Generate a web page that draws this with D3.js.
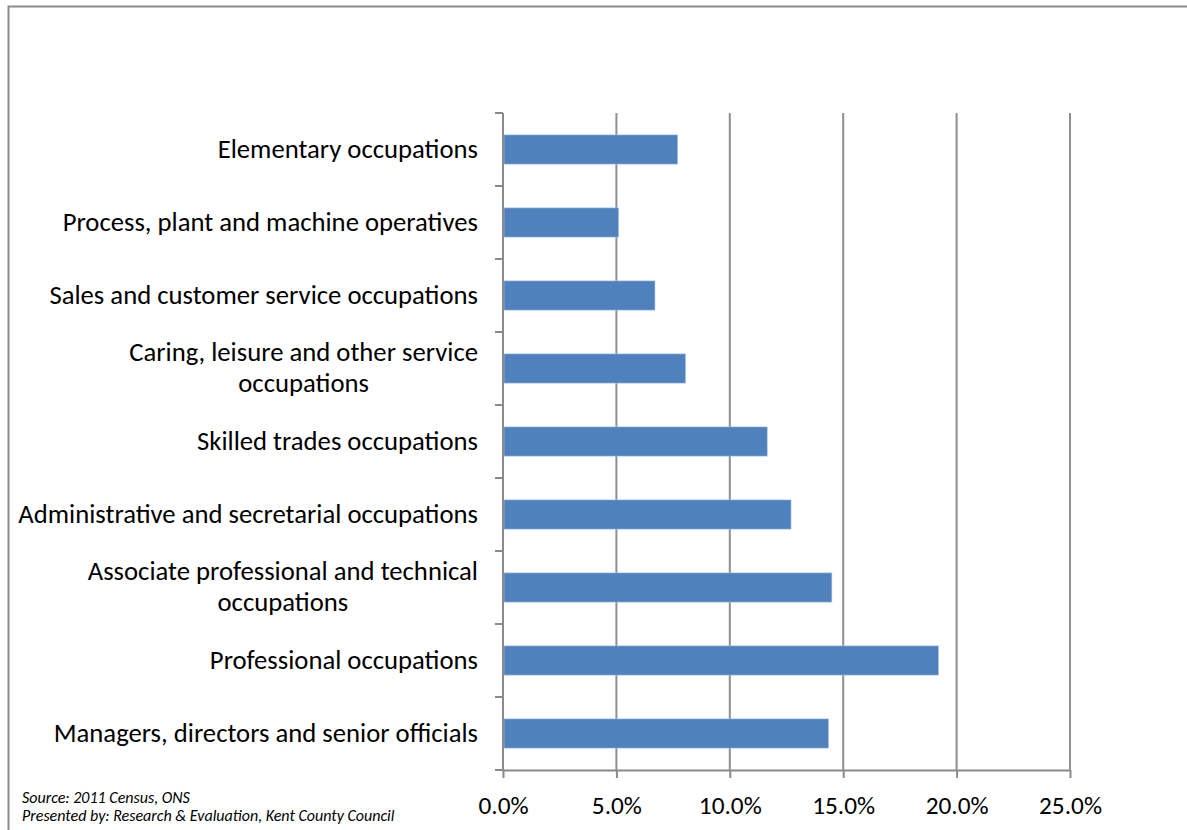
<!DOCTYPE html>
<meta charset="utf-8">
<script src="https://d3js.org/d3.v7.min.js"></script>
<style>
  body { margin: 0; background: #fff; }
  text { font-family: Carlito, Calibri, Lato, "Open Sans", sans-serif; }
</style>
<div id="my_dataviz"></div>
<script>

  // categories, top to bottom as drawn
  var occupations = [
    "Elementary occupations",
    "Process, plant and machine operatives",
    "Sales and customer service occupations",
    "Caring, leisure and other service\noccupations",
    "Skilled trades occupations",
    "Administrative and secretarial occupations",
    "Associate professional and technical\noccupations",
    "Professional occupations",
    "Managers, directors and senior officials"
  ];
  // share of residents in employment (%)
  var shares = [7.7, 5.1, 6.7, 8.05, 11.65, 12.7, 14.5, 19.2, 14.35];
  var xTicks = [0, 5, 10, 15, 20, 25];
  var notes = ["Source: 2011 Census, ONS",
               "Presented by: Research & Evaluation, Kent County Council"];

  var W = 1187, H = 830;
  var margin = {top: 113, left: 503, right: 117, bottom: 60};
  var width = W - margin.left - margin.right,
      height = H - margin.top - margin.bottom;

  var root = d3.select("#my_dataviz").append("svg")
      .attr("width", W)
      .attr("height", H);

  // outer frame (only top and left visible)
  root.append("path")
      .attr("d", "M8.5,830 V6.5 H1187")
      .attr("fill", "none")
      .attr("stroke", "#8a8a8a")
      .attr("stroke-width", 2);

  var svg = root.append("g")
      .attr("transform", "translate(" + margin.left + "," + margin.top + ")");

  var x = d3.scaleLinear().domain([0, 25]).range([0, width]);
  var y = d3.scaleBand().domain(occupations).range([0, height]).paddingInner(0.6).paddingOuter(0.3);

  // vertical gridlines
  svg.selectAll(".grid")
    .data(xTicks.slice(1))
    .enter().append("line")
      .attr("x1", function(d) { return x(d); })
      .attr("x2", function(d) { return x(d); })
      .attr("y1", 0)
      .attr("y2", height)
      .attr("stroke", "#8f8f8f")
      .attr("stroke-width", 2);

  // bars
  svg.selectAll("rect")
    .data(shares)
    .enter().append("rect")
      .attr("x", 1)
      .attr("y", function(d, i) { return y(occupations[i]); })
      .attr("width", function(d) { return x(d) - 1; })
      .attr("height", y.bandwidth())
      .attr("fill", "#4f81bd")
      .attr("stroke", "#a9c4e6")
      .attr("stroke-width", 0.6);

  // x axis
  var xAxis = svg.append("g")
      .attr("transform", "translate(0," + height + ")")
      .call(d3.axisBottom(x).tickValues(xTicks).tickSize(8).tickSizeOuter(0)
        .tickFormat(function(d) { return d.toFixed(1) + "%"; }));
  xAxis.select(".domain").attr("stroke", "#8a8a8a").attr("stroke-width", 2);
  xAxis.selectAll(".tick line").attr("stroke", "#8a8a8a").attr("stroke-width", 2);
  xAxis.selectAll(".tick text")
      .attr("y", 26)
      .attr("dy", "0.71em")
      .attr("fill", "#000")
      .style("font-size", "25.3px");

  // y axis line and category tick marks (between categories)
  var yTicks = d3.range(occupations.length + 1).map(function(i) { return i * height / occupations.length; });
  svg.append("line")
      .attr("x1", 0).attr("x2", 0).attr("y1", 0).attr("y2", height)
      .attr("stroke", "#8a8a8a").attr("stroke-width", 2);
  svg.selectAll(".ytick")
    .data(yTicks)
    .enter().append("line")
      .attr("x1", -8).attr("x2", 0)
      .attr("y1", function(d) { return d; })
      .attr("y2", function(d) { return d; })
      .attr("stroke", "#8a8a8a").attr("stroke-width", 2);

  // category labels, multi-line ones centred on the widest line
  var labels = svg.selectAll(".cat")
    .data(occupations)
    .enter().append("text")
      .attr("class", "cat")
      .attr("fill", "#000")
      .style("font-size", "26.7px")
      .attr("transform", function(d) { return "translate(-25," + (y(d) + y.bandwidth() / 2) + ")"; });

  labels.each(function(d) {
    var t = d3.select(this);
    var lines = d.split("\n");
    var n = lines.length;
    lines.forEach(function(line, i) {
      t.append("tspan")
        .attr("x", 0)
        .attr("y", (i - (n - 1) / 2) * 31)
        .attr("dy", "0.3em")
        .text(line);
    });
    if (n == 1) {
      t.attr("text-anchor", "end");
    } else {
      var maxW = d3.max(t.selectAll("tspan").nodes(), function(s) { return s.getComputedTextLength(); });
      t.attr("text-anchor", "middle");
      t.selectAll("tspan").attr("x", -maxW / 2);
    }
  });

  // footer notes
  root.selectAll(".note")
    .data(notes)
    .enter().append("text")
      .attr("x", 22)
      .attr("y", function(d, i) { return 803 + i * 18; })
      .attr("fill", "#000")
      .style("font-size", "16px")
      .style("font-style", "italic")
      .text(function(d) { return d; });

</script>
